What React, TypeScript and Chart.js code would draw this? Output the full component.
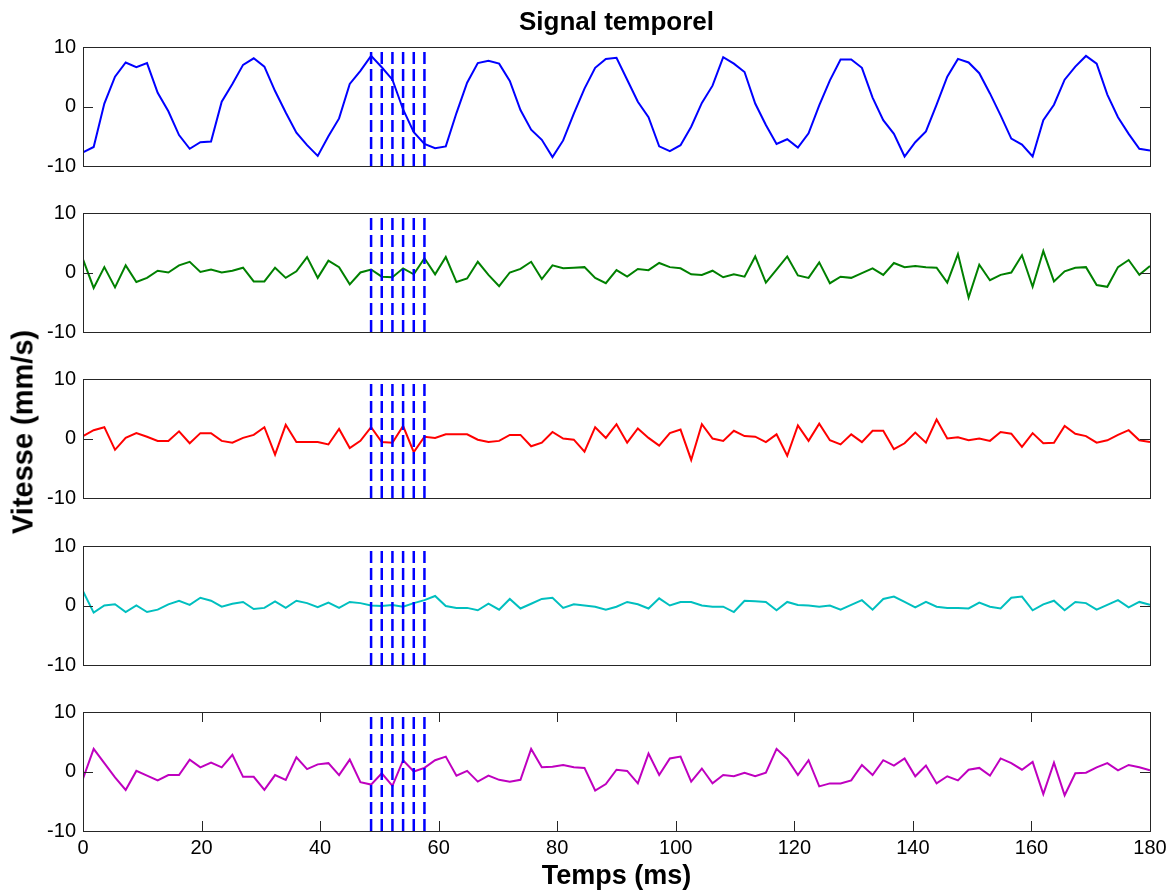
import React, { useEffect, useRef } from 'react';
import { Chart, registerables } from 'chart.js';

Chart.register(...registerables);

// ---- Data ----
const timeMs = [
  0, 1.8, 3.6, 5.4, 7.2, 9, 10.8, 12.6, 14.4, 16.2,
  18, 19.8, 21.6, 23.4, 25.2, 27, 28.8, 30.6, 32.4, 34.2,
  36, 37.8, 39.6, 41.4, 43.2, 45, 46.8, 48.6, 50.4, 52.2,
  54, 55.8, 57.6, 59.4, 61.2, 63, 64.8, 66.6, 68.4, 70.2,
  72, 73.8, 75.6, 77.4, 79.2, 81, 82.8, 84.6, 86.4, 88.2,
  90, 91.8, 93.6, 95.4, 97.2, 99, 100.8, 102.6, 104.4, 106.2,
  108, 109.8, 111.6, 113.4, 115.2, 117, 118.8, 120.6, 122.4, 124.2,
  126, 127.8, 129.6, 131.4, 133.2, 135, 136.8, 138.6, 140.4, 142.2,
  144, 145.8, 147.6, 149.4, 151.2, 153, 154.8, 156.6, 158.4, 160.2,
  162, 163.8, 165.6, 167.4, 169.2, 171, 172.8, 174.6, 176.4, 178.2,
  180,
];

const blueSignal = [
  -7.7, -6.8, 0.5, 5.0, 7.4, 6.6, 7.3, 2.3, -0.8, -4.8,
  -7.1, -6.0, -5.9, 0.8, 3.8, 7.0, 8.1, 6.7, 2.6, -1.0,
  -4.4, -6.5, -8.3, -5.0, -2.0, 3.8, 6.0, 8.5, 6.6, 4.5,
  -0.5, -4.3, -6.3, -7.0, -6.7, -1.1, 4.0, 7.3, 7.7, 7.2,
  4.3, -0.6, -3.9, -5.6, -8.5, -5.7, -1.2, 3.0, 6.5, 8.0,
  8.2, 4.5, 0.8, -1.8, -6.7, -7.5, -6.5, -3.4, 0.6, 3.5,
  8.3, 7.2, 5.8, 0.5, -3.1, -6.3, -5.5, -6.9, -4.5, 0.2,
  4.4, 7.9, 7.9, 6.5, 1.5, -2.3, -4.6, -8.4, -6.0, -4.2,
  0.3, 5.0, 8.0, 7.4, 5.6, 2.2, -1.5, -5.4, -6.4, -8.4,
  -2.3, 0.3, 4.5, 6.7, 8.5, 7.2, 2.0, -1.8, -4.6, -7.1,
  -7.4,
];

const greenSignal = [
  2.2, -2.6, 0.9, -2.5, 1.2, -1.6, -0.9, 0.3, 0.0, 1.2,
  1.8, 0.1, 0.5, 0.0, 0.3, 0.8, -1.5, -1.5, 0.8, -0.9,
  0.2, 2.6, -0.9, 2.0, 0.9, -2.0, 0.0, 0.5, -0.7, -0.8,
  0.7, -0.3, 2.4, -0.3, 2.6, -1.6, -1.0, 1.8, -0.4, -2.3,
  0.0, 0.6, 1.8, -1.1, 1.2, 0.7, 0.8, 0.9, -0.9, -1.8,
  0.4, -0.7, 0.6, 0.4, 1.6, 0.9, 0.7, -0.3, -0.4, 0.3,
  -0.8, -0.3, -0.7, 2.7, -1.7, 0.5, 2.7, -0.5, -0.9, 1.7,
  -1.8, -0.7, -0.9, -0.1, 0.7, -0.4, 1.6, 0.9, 1.1, 0.9,
  0.8, -1.7, 3.1, -4.2, 1.3, -1.3, -0.4, 0.0, 2.9, -2.4,
  3.6, -1.5, 0.2, 0.8, 0.9, -2.1, -2.4, 0.9, 2.1, -0.4,
  1.1,
];

const redSignal = [
  0.4, 1.4, 1.9, -1.9, 0.1, 0.9, 0.3, -0.4, -0.4, 1.2,
  -0.8, 0.9, 0.9, -0.4, -0.7, 0.1, 0.6, 1.9, -2.7, 2.3,
  -0.6, -0.6, -0.6, -1.0, 1.6, -1.6, -0.4, 1.9, -0.6, -0.7,
  2.1, -2.3, 0.3, 0.1, 0.7, 0.7, 0.7, -0.2, -0.6, -0.4,
  0.6, 0.6, -1.3, -0.7, 1.1, 0.0, -0.2, -2.2, 1.9, 0.1,
  2.4, -0.7, 1.7, 0.1, -1.2, 0.9, 1.5, -3.6, 2.4, 0.0,
  -0.4, 1.3, 0.4, 0.3, -0.6, 0.7, -2.9, 2.2, -0.4, 2.5,
  -0.3, -1.0, 0.7, -0.6, 1.3, 1.3, -1.8, -0.8, 1.0, -0.7,
  3.2, 0.0, 0.2, -0.3, 0.0, -0.4, 1.1, 0.8, -1.4, 0.9,
  -0.8, -0.7, 2.1, 0.8, 0.4, -0.7, -0.3, 0.6, 1.4, -0.3,
  -0.6,
];

const cyanSignal = [
  2.4, -1.2, 0.0, 0.2, -1.1, 0.0, -1.1, -0.7, 0.2, 0.8,
  0.1, 1.3, 0.8, -0.2, 0.3, 0.6, -0.6, -0.4, 0.7, -0.4,
  0.8, 0.4, -0.3, 0.5, -0.4, 0.6, 0.4, 0.0, -0.1, 0.1,
  -0.2, 0.4, 0.9, 1.6, -0.1, -0.4, -0.4, -0.8, 0.3, -0.7,
  1.1, -0.5, 0.3, 1.1, 1.3, -0.4, 0.2, 0.0, -0.2, -0.7,
  -0.2, 0.6, 0.2, -0.5, 1.2, 0.0, 0.6, 0.6, 0.0, -0.2,
  -0.2, -1.1, 0.8, 0.7, 0.6, -0.8, 0.6, 0.1, 0.0, -0.2,
  0.0, -0.7, 0.1, 0.9, -0.7, 1.1, 1.5, 0.6, -0.3, 0.6,
  -0.2, -0.4, -0.4, -0.5, 0.5, -0.2, -0.5, 1.3, 1.5, -0.8,
  0.2, 0.8, -0.8, 0.6, 0.4, -0.7, 0.1, 0.9, -0.3, 0.6,
  0.1,
];

const magentaSignal = [
  -1.2, 3.8, 1.4, -1.0, -3.1, 0.1, -0.7, -1.5, -0.6, -0.6,
  2.0, 0.7, 1.5, 0.7, 2.8, -0.9, -0.9, -3.1, -0.6, -1.4,
  2.4, 0.4, 1.2, 1.4, -0.6, 2.0, -1.8, -2.2, -0.3, -2.4,
  1.9, 0.0, 0.6, 1.9, 2.5, -0.7, 0.1, -1.7, -0.7, -1.4,
  -1.7, -1.4, 3.8, 0.7, 0.8, 1.1, 0.7, 0.6, -3.2, -2.1,
  0.3, 0.1, -2.0, 3.0, -0.6, 2.2, 2.5, -1.7, 0.5, -2.0,
  -0.6, -0.8, -0.2, -0.8, -0.2, 3.8, 2.1, -0.6, 1.9, -2.5,
  -2.0, -2.0, -1.5, 1.1, -0.6, 1.9, 1.0, 2.2, -0.8, 1.0,
  -2.0, -0.8, -1.5, 0.3, 0.6, -0.7, 2.2, 1.4, 0.3, 1.6,
  -3.8, 1.5, -4.0, -0.3, -0.2, 0.7, 1.4, 0.2, 1.1, 0.7,
  0.2,
];

const markerTimes = [48.6, 50.4, 52.2, 54, 55.8, 57.6];
const yTickValues = [-10, 0, 10];
const xTickValues = [0, 20, 40, 60, 80, 100, 120, 140, 160, 180];

const TITLE = 'Signal temporel';
const Y_LABEL = 'Vitesse (mm/s)';
const X_LABEL = 'Temps (ms)';

const seriesList = [blueSignal, greenSignal, redSignal, cyanSignal, magentaSignal];
const seriesColors = ['#0000FF', '#008000', '#FF0000', '#00BFBF', '#BF00BF'];

// ---- Layout ----
const W = 1173;
const H = 890;
const PLOT_LEFT = 83;
const PLOT_RIGHT = 1150;
const PLOT_TOPS = [47, 213, 379, 546, 712];
const PLOT_H = 119;
const PAD = 20;
const X_AXIS_H = H - (PLOT_TOPS[4] + PLOT_H);
const TICK_LEN = 10;
const FRAME_COLOR = '#262626';
const FONT_FAMILY = '"Liberation Sans", Arial, Helvetica, sans-serif';

function framePlugin(showXTicks: boolean) {
  return {
    id: 'matlabFrame',
    afterDatasetsDraw(chart: any) {
      const { ctx, chartArea: a, scales } = chart;
      ctx.save();
      ctx.strokeStyle = FRAME_COLOR;
      ctx.lineWidth = 1;
      ctx.setLineDash([]);
      ctx.beginPath();
      const ys = scales.y;
      ys.ticks.forEach((t: any) => {
        if (t.value > ys.min && t.value < ys.max) {
          const p = Math.round(ys.getPixelForValue(t.value)) + 0.5;
          ctx.moveTo(a.left, p);
          ctx.lineTo(a.left + TICK_LEN, p);
          ctx.moveTo(a.right - TICK_LEN, p);
          ctx.lineTo(a.right, p);
        }
      });
      if (showXTicks) {
        const xs = scales.x;
        xs.ticks.forEach((t: any) => {
          if (t.value > xs.min && t.value < xs.max) {
            const p = Math.round(xs.getPixelForValue(t.value)) + 0.5;
            ctx.moveTo(p, a.top);
            ctx.lineTo(p, a.top + TICK_LEN);
            ctx.moveTo(p, a.bottom - TICK_LEN);
            ctx.lineTo(p, a.bottom);
          }
        });
      }
      ctx.stroke();
      ctx.strokeRect(
        Math.round(a.left) + 0.5,
        Math.round(a.top) + 0.5,
        Math.round(a.right - a.left),
        Math.round(a.bottom - a.top)
      );
      ctx.restore();
    },
  };
}

function Panel({ index }: { index: number }) {
  const ref = useRef<HTMLCanvasElement | null>(null);
  const isLast = index === seriesList.length - 1;
  const top = PLOT_TOPS[index] - PAD;
  const height = PLOT_H + PAD + (isLast ? X_AXIS_H : PAD);

  useEffect(() => {
    if (!ref.current) return;
    const values = seriesList[index];
    const tickFont = { family: FONT_FAMILY, size: 20, weight: 'normal' as const };
    const xScale: any = {
      type: 'linear',
      min: 0,
      max: 180,
      display: isLast,
      afterBuildTicks: (s: any) => {
        s.ticks = xTickValues.map((v) => ({ value: v }));
      },
      grid: { display: false, drawTicks: false },
      border: { display: false },
      ticks: {
        font: tickFont,
        color: '#000000',
        padding: 5,
        maxRotation: 0,
        autoSkip: false,
      },
    };
    if (isLast) {
      xScale.afterFit = (s: any) => {
        s.height = X_AXIS_H;
      };
    }
    const chart = new Chart(ref.current, {
      type: 'line',
      data: {
        datasets: [
          {
            data: timeMs.map((t, i) => ({ x: t, y: values[i] })),
            borderColor: seriesColors[index],
            borderWidth: 2,
            pointRadius: 0,
            tension: 0,
            fill: false,
            order: 1,
          },
          ...markerTimes.map((t) => ({
            data: [
              { x: t, y: -10 },
              { x: t, y: 10 },
            ],
            borderColor: '#0000FF',
            borderWidth: 2.5,
            borderDash: [12, 5],
            borderCapStyle: 'butt' as const,
            pointRadius: 0,
            fill: false,
            order: 0,
          })),
        ],
      },
      options: {
        responsive: false,
        maintainAspectRatio: false,
        animation: false,
        events: [],
        layout: {
          padding: { left: 0, right: W - PLOT_RIGHT, top: PAD, bottom: isLast ? 0 : PAD },
        },
        plugins: {
          legend: { display: false },
          tooltip: { enabled: false },
          title: { display: false },
        },
        scales: {
          x: xScale,
          y: {
            type: 'linear',
            min: -10,
            max: 10,
            afterBuildTicks: (s: any) => {
              s.ticks = yTickValues.map((v) => ({ value: v }));
            },
            afterFit: (s: any) => {
              s.width = PLOT_LEFT;
            },
            grid: { display: false, drawTicks: false },
            border: { display: false },
            ticks: {
              font: tickFont,
              color: '#000000',
              padding: 7,
            },
          },
        },
      } as any,
      plugins: [framePlugin(isLast)],
    });
    return () => chart.destroy();
  }, [index, isLast]);

  return (
    <canvas
      ref={ref}
      width={W}
      height={height}
      style={{ position: 'absolute', left: 0, top, width: W, height }}
    />
  );
}

export default function App() {
  const labelBase: React.CSSProperties = {
    position: 'absolute',
    fontFamily: FONT_FAMILY,
    fontWeight: 'bold',
    color: '#000',
    whiteSpace: 'nowrap',
    lineHeight: 1,
  };
  return (
    <div
      style={{
        position: 'absolute',
        left: 0,
        top: 0,
        width: W,
        height: H,
        background: '#ffffff',
        overflow: 'hidden',
      }}
    >
      {seriesList.map((_, i) => (
        <Panel key={i} index={i} />
      ))}
      <div
        style={{
          ...labelBase,
          left: (PLOT_LEFT + PLOT_RIGHT) / 2,
          top: 21,
          fontSize: 26,
          transform: 'translate(-50%, -50%)',
        }}
      >
        {TITLE}
      </div>
      <div
        style={{
          ...labelBase,
          left: 23,
          top: 432,
          fontSize: 29,
          transform: 'translate(-50%, -50%) rotate(-90deg)',
        }}
      >
        {Y_LABEL}
      </div>
      <div
        style={{
          ...labelBase,
          left: (PLOT_LEFT + PLOT_RIGHT) / 2,
          top: 875,
          fontSize: 27,
          transform: 'translate(-50%, -50%)',
        }}
      >
        {X_LABEL}
      </div>
    </div>
  );
}
